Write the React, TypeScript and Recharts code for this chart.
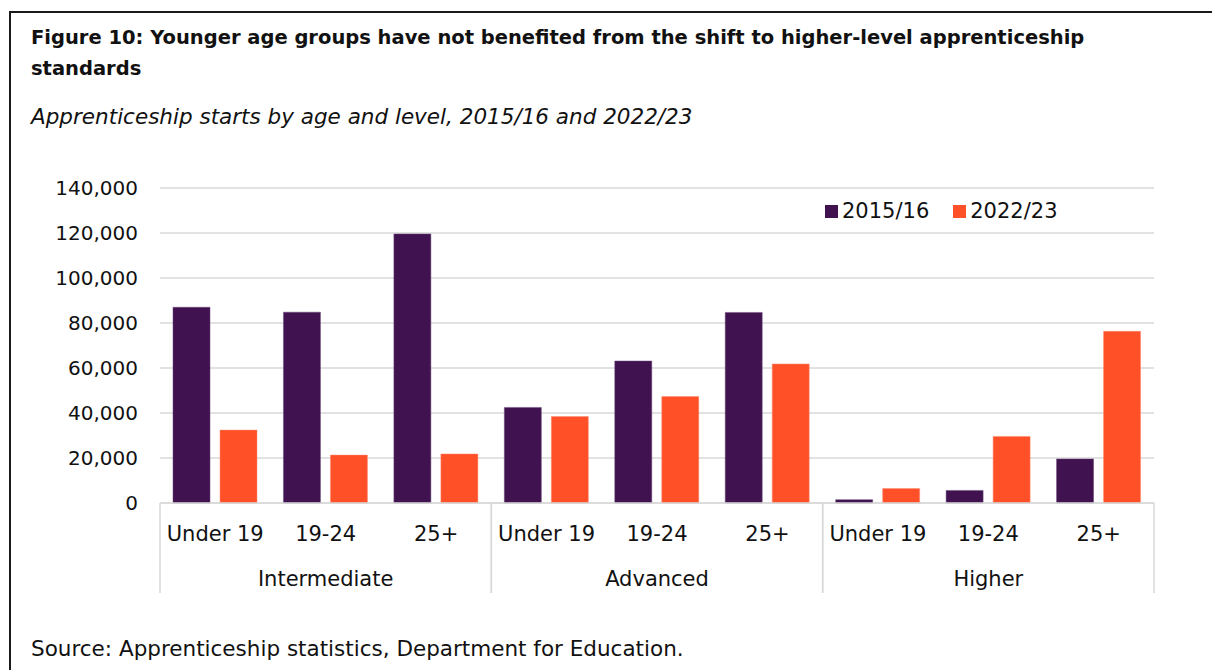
import React from "react";
import { BarChart, Bar, XAxis, YAxis, CartesianGrid } from "recharts";

const levels = ["Intermediate", "Advanced", "Higher"];
const ages = ["Under 19", "19-24", "25+"];
const starts2015 = [87000, 84800, 119600, 42500, 63100, 84700, 1500, 5600, 19600];
const starts2022 = [32400, 21300, 21800, 38400, 47300, 61800, 6400, 29600, 76300];
const yTicks = [0, 20000, 40000, 60000, 80000, 100000, 120000, 140000];
const seriesNames = ["2015/16", "2022/23"];

const PURPLE = "#40124f";
const ORANGE = "#ff5028";
const FONT = "'DejaVu Sans', Verdana, sans-serif";

const data = levels.flatMap((level, li) =>
  ages.map((age, ai) => ({
    key: `${level}-${age}`,
    level,
    age,
    y2015: starts2015[li * 3 + ai],
    y2022: starts2022[li * 3 + ai],
  }))
);

function CategoryTick(props: any) {
  const { x, y, payload, index } = props;
  const half = payload.offset ?? 0;
  const row = data[index];
  const pos = index % ages.length;
  return (
    <g>
      <text x={x} y={y + 38} textAnchor="middle" fontSize={21} fill="#111" fontFamily={FONT}>
        {row ? row.age : ""}
      </text>
      {pos === 0 && <line x1={x - half} x2={x - half} y1={y} y2={y + 90} stroke="#d9d9d9" strokeWidth={1.5} />}
      {pos === ages.length - 1 && <line x1={x + half} x2={x + half} y1={y} y2={y + 90} stroke="#d9d9d9" strokeWidth={1.5} />}
      {pos === 1 && (
        <text x={x} y={y + 83} textAnchor="middle" fontSize={21} fill="#111" fontFamily={FONT}>
          {row.level}
        </text>
      )}
    </g>
  );
}

function ChartLegend() {
  const colors = [PURPLE, ORANGE];
  return (
    <div
      style={{
        position: "absolute",
        left: 825,
        top: 198,
        display: "flex",
        fontFamily: FONT,
        fontSize: 21,
        color: "#111",
        lineHeight: "26px",
      }}
    >
      {seriesNames.map((label, i) => (
        <div key={label} style={{ display: "flex", alignItems: "center", marginRight: 24 }}>
          <span style={{ width: 13, height: 13, background: colors[i], display: "inline-block", marginRight: 4 }} />
          <span>{label}</span>
        </div>
      ))}
    </div>
  );
}

export default function App() {
  return (
    <div style={{ position: "relative", width: 1212, height: 670, overflow: "hidden", background: "#fff" }}>
      <style>{`body{margin:0;overflow:hidden}`}</style>
      <div
        style={{
          position: "absolute",
          left: 9,
          top: 11,
          width: 1230,
          height: 720,
          border: "2px solid #1a1a1a",
        }}
      />
      <div
        style={{
          position: "absolute",
          left: 31,
          top: 22,
          width: 1090,
          fontFamily: FONT,
          fontWeight: "bold",
          fontSize: 19.5,
          lineHeight: "31px",
          color: "#111",
        }}
      >
        Figure 10: Younger age groups have not benefited from the shift to higher-level apprenticeship standards
      </div>
      <div
        style={{
          position: "absolute",
          left: 31,
          top: 104,
          fontFamily: FONT,
          fontStyle: "italic",
          fontSize: 21.5,
          color: "#111",
        }}
      >
        Apprenticeship starts by age and level, 2015/16 and 2022/23
      </div>
      <div style={{ position: "absolute", left: 0, top: 0 }}>
        <BarChart
          width={1212}
          height={670}
          data={data}
          margin={{ top: 188, right: 58, bottom: 77, left: 0 }}
          barSize={37}
          barGap={10}
        >
          <CartesianGrid vertical={false} stroke="#d9d9d9" strokeWidth={1.5} />
          <XAxis
            dataKey="key"
            interval={0}
            tickLine={false}
            tickSize={0}
            tickMargin={0}
            height={90}
            axisLine={{ stroke: "#d9d9d9", strokeWidth: 1.5 }}
            tick={<CategoryTick />}
          />
          <YAxis
            width={160}
            domain={[0, 140000]}
            ticks={yTicks}
            tickLine={false}
            axisLine={false}
            tickSize={0}
            tickMargin={22}
            tick={{ fontSize: 20, fill: "#111", fontFamily: FONT }}
            tickFormatter={(v: number) => v.toLocaleString("en-US")}
          />
          <Bar dataKey="y2015" name={seriesNames[0]} fill={PURPLE} stroke="#6b4a78" strokeWidth={0.5} isAnimationActive={false} />
          <Bar dataKey="y2022" name={seriesNames[1]} fill={ORANGE} stroke="#ff8a6e" strokeWidth={0.5} isAnimationActive={false} />
        </BarChart>
      </div>
      <ChartLegend />
      <div
        style={{
          position: "absolute",
          left: 31,
          top: 636,
          fontFamily: FONT,
          fontSize: 21.5,
          color: "#111",
        }}
      >
        Source: Apprenticeship statistics, Department for Education.
      </div>
    </div>
  );
}
